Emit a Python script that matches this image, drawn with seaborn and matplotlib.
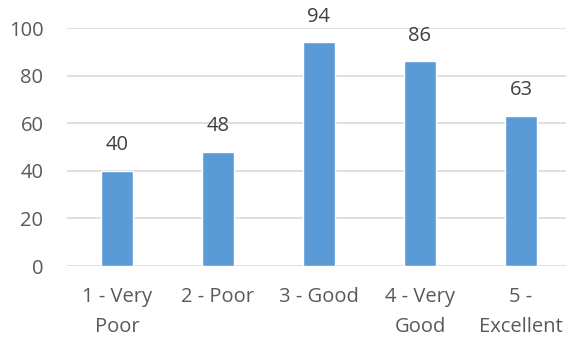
import matplotlib
matplotlib.use("Agg")
import matplotlib.pyplot as plt
import seaborn as sns
import pandas as pd

categories = ["1 - Very\nPoor", "2 - Poor", "3 - Good", "4 - Very\nGood", "5 -\nExcellent"]
values = [40, 48, 94, 86, 63]
yticks = [0, 20, 40, 60, 80, 100]

sns.set_theme(style="white")
plt.rcParams['font.family'] = ['Open Sans', 'DejaVu Sans']

df = pd.DataFrame({"cat": categories, "val": values})
fig = plt.figure(figsize=(5.66, 3.40), dpi=100)
ax = fig.add_axes([67/566, 1 - 266/340, (566 - 67)/566, (266 - 28)/340])
sns.barplot(data=df, x="cat", y="val", color="#5B9BD5", saturation=1, width=0.31, ax=ax, zorder=3)
ax.set_xlim(-0.495, 4.446)
ax.set_ylim(0, 100)
ax.set_yticks(yticks)
ax.grid(axis="y", color="#D9D9D9", linewidth=1.2, zorder=0)
ax.set_axisbelow(True)
for s in ax.spines.values():
    s.set_visible(False)
ax.set_xlabel("")
ax.set_ylabel("")
ax.tick_params(axis="both", length=0, colors="#595959", labelsize=14.5)
ax.tick_params(axis="y", pad=17)
ax.tick_params(axis="x", pad=15)
for lab in ax.get_xticklabels():
    lab.set_linespacing(1.7)
for i, v in enumerate(values):
    ax.annotate(str(v), (i, v), xytext=(0, 18.5), textcoords="offset points",
                ha="center", va="center", fontsize=14.5, color="#404040", annotation_clip=False)
fig.savefig("out.png", dpi=100)
